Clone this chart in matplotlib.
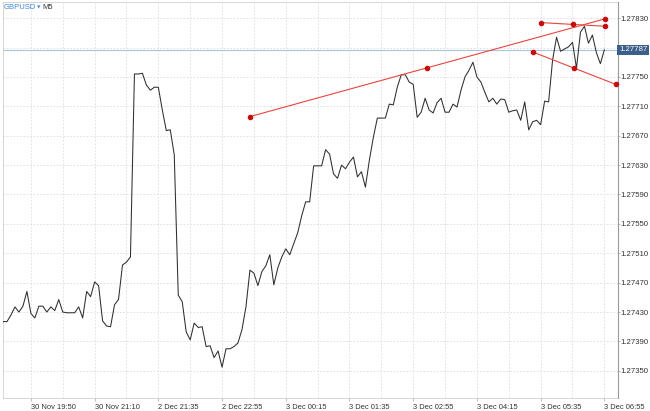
import matplotlib
matplotlib.use("Agg")
import matplotlib.pyplot as plt
from matplotlib.ticker import FixedLocator

plt.rcParams['font.family'] = ['Liberation Sans', 'DejaVu Sans']

# GBPUSD M5 close prices, one per bar
close = [
    1.27417, 1.27417, 1.27426, 1.27437, 1.27430, 1.27438, 1.27458, 1.27428, 1.27422, 1.27438,
    1.27438, 1.27430, 1.27437, 1.27432, 1.27447, 1.27430, 1.27429, 1.27429, 1.27429, 1.27437,
    1.27422, 1.27458, 1.27451, 1.27471, 1.27466, 1.27418, 1.27411, 1.27410, 1.27440, 1.27447,
    1.27494, 1.27498, 1.27505, 1.27754, 1.27754, 1.27755, 1.27739, 1.27732, 1.27736, 1.27736,
    1.27705, 1.27677, 1.27678, 1.27644, 1.27453, 1.27444, 1.27403, 1.27392, 1.27415, 1.27409,
    1.27410, 1.27383, 1.27384, 1.27368, 1.27377, 1.27355, 1.27380, 1.27380, 1.27383, 1.27388,
    1.27406, 1.27437, 1.27487, 1.27483, 1.27466, 1.27485, 1.27493, 1.27508, 1.27467, 1.27490,
    1.27505, 1.27516, 1.27508, 1.27523, 1.27538, 1.27561, 1.27580, 1.27580, 1.27629, 1.27629,
    1.27629, 1.27651, 1.27645, 1.27618, 1.27612, 1.27630, 1.27625, 1.27634, 1.27641, 1.27614,
    1.27621, 1.27600, 1.27637, 1.27668, 1.27694, 1.27694, 1.27694, 1.27713, 1.27712, 1.27736,
    1.27753, 1.27753, 1.27743, 1.27740, 1.27695, 1.27702, 1.27721, 1.27705, 1.27701, 1.27715,
    1.27721, 1.27702, 1.27702, 1.27713, 1.27709, 1.27732, 1.27750, 1.27759, 1.27770, 1.27750,
    1.27743, 1.27729, 1.27716, 1.27721, 1.27713, 1.27720, 1.27719, 1.27702, 1.27704, 1.27705,
    1.27691, 1.27716, 1.27678, 1.27689, 1.27691, 1.27685, 1.27717, 1.27716, 1.27773, 1.27804,
    1.27785, 1.27788, 1.27791, 1.27797, 1.27762, 1.27811, 1.27819, 1.27796, 1.27807, 1.27783,
    1.27768, 1.27787,
]
bars = list(range(len(close)))

symbol = "GBPUSD"
timeframe = "M5"
last_price = 1.27787

# time axis labels (every 16 bars, starting at bar 7)
tick_bars = [7, 23, 39, 55, 71, 87, 103, 119, 135, 151]
tick_labels = ["30 Nov 19:50", "30 Nov 21:10", "2 Dec 21:35", "2 Dec 22:55", "3 Dec 00:15",
               "3 Dec 01:35", "3 Dec 02:55", "3 Dec 04:15", "3 Dec 05:35", "3 Dec 06:55"]
grid_bars = [15, 31, 47, 63, 79, 95, 111, 127, 143]

price_ticks = [1.27350, 1.27390, 1.27430, 1.27470, 1.27510, 1.27550, 1.27590,
               1.27630, 1.27670, 1.27710, 1.27750, 1.27790, 1.27830]
price_labels = ["1.27350", "1.27390", "1.27430", "1.27470", "1.27510", "1.27550", "1.27590",
                "1.27630", "1.27670", "1.27710", "1.27750", "", "1.27830"]

# trend lines: (bar, price) start and end
trend_lines = [
    ((62.0, 1.27696), (151.1, 1.27829)),
    ((135.0, 1.27824), (151.1, 1.27819)),
    ((133.0, 1.27784), (153.8, 1.27740)),
]

fig = plt.figure(figsize=(6.5, 4.11), dpi=100)
ax = fig.add_axes([2.7 / 650, 1 - 398 / 411, (617.5 - 2.7) / 650, (398 - 2) / 411])

ax.plot(bars, close, color="#2e2e2e", lw=0.75, zorder=3)

ax.axhline(last_price, color="#a9c3e3", lw=0.8, zorder=2)

for (b0, p0), (b1, p1) in trend_lines:
    bm, pm = (b0 + b1) / 2, (p0 + p1) / 2
    ax.plot([b0, b1], [p0, p1], color="#e8453f", lw=0.8, zorder=4, clip_on=False)
    ax.plot([b0, bm, b1], [p0, pm, p1], ls="none", marker="o", ms=3,
            color="#c40f0f", zorder=5, clip_on=False)

ax.set_xlim(-0.08, 154.3)
ax.set_ylim(1.27313, 1.27852)

ax.xaxis.set_major_locator(FixedLocator(tick_bars))
ax.xaxis.set_minor_locator(FixedLocator(grid_bars))
ax.set_xticklabels(tick_labels, ha="left")
ax.yaxis.tick_right()
ax.set_yticks(price_ticks)
ax.set_yticklabels(price_labels)

ax.tick_params(axis="x", which="major", length=2.5, width=0.6, color="#b0b0b0",
               labelsize=5.4, labelcolor="#333333", pad=1.5)
ax.tick_params(axis="x", which="minor", length=0)
ax.tick_params(axis="y", length=1.5, width=0.6, color="#b0b0b0",
               labelsize=5.6, labelcolor="#333333", pad=0.5)

ax.grid(True, which="both", axis="x", color="#dcdcdc", lw=0.6, ls=(0, (2, 2)))
ax.grid(True, which="major", axis="y", color="#dcdcdc", lw=0.6, ls=(0, (2, 2)))
ax.set_axisbelow(True)

for side in ["top", "left", "bottom"]:
    ax.spines[side].set_color("#d0d0d0")
    ax.spines[side].set_linewidth(0.6)
ax.spines["right"].set_color("#9a9a9a")
ax.spines["right"].set_linewidth(0.8)

# current price box on the price scale
ax.annotate(f"{last_price:.5f}", xy=(1, last_price), xycoords=("axes fraction", "data"),
            xytext=(1.0, 0), textcoords="offset points", ha="left", va="center",
            fontsize=5.6, color="white", annotation_clip=False, zorder=10,
            bbox=dict(boxstyle="square,pad=0.2", fc="#3b5f8a", ec="none"))

# symbol header
fig.text(4 / 650, 1 - 7.5 / 411, symbol, fontsize=5.5, color="#3a86d6",
         va="center", ha="left")
fig.text(37 / 650, 1 - 7.5 / 411, "\u25bc", fontsize=3.2, color="#3a86d6",
         va="center", ha="left", family="DejaVu Sans")
fig.text(42 / 650, 1 - 7.5 / 411, timeframe, fontsize=5.5, color="#333333",
         va="center", ha="left")

fig.savefig("out.png", dpi=100)
